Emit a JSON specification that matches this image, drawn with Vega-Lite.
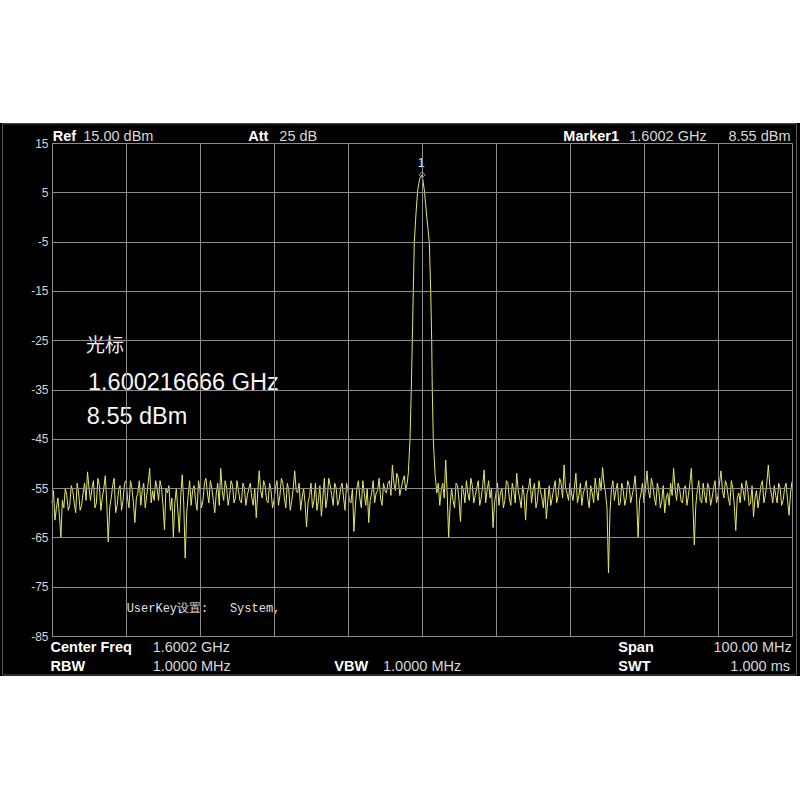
{
  "$schema": "https://vega.github.io/schema/vega-lite/v6.json",
  "width": 740,
  "height": 493,
  "autosize": {"type": "none"},
  "padding": {"left": 52, "top": 143, "right": 8, "bottom": 164},
  "background": "white",
  "config": {"view": {"stroke": null}},
  "datasets": {
    "screen": [{"f": 1543.1, "f2": 1651.4, "p": 19.06, "p2": -93.1}],
    "frame": [{"f": 1543.51, "f2": 1650.81, "p": 18.9, "p2": -92.9}],
    "trace": [
      {"f":1550.2,"p":-58.0},{"f":1550.6,"p":-61.5},{"f":1551.0,"p":-57.0},{"f":1551.4,"p":-65.0},{"f":1551.8,"p":-59.0},{"f":1552.2,"p":-56.5},{"f":1552.6,"p":-58.5},{"f":1553.0,"p":-55.5},{"f":1553.4,"p":-60.0},{"f":1553.8,"p":-56.0},{"f":1554.2,"p":-58.5},{"f":1554.6,"p":-54.0},{"f":1555.0,"p":-51.7},{"f":1555.4,"p":-57.5},{"f":1555.8,"p":-53.5},{"f":1556.2,"p":-58.0},{"f":1556.6,"p":-54.5},{"f":1557.0,"p":-57.0},{"f":1557.4,"p":-52.5},{"f":1557.8,"p":-65.9},{"f":1558.2,"p":-57.0},{"f":1558.6,"p":-53.0},{"f":1559.0,"p":-58.5},{"f":1559.4,"p":-54.5},{"f":1559.8,"p":-57.5},{"f":1560.2,"p":-53.5},{"f":1560.6,"p":-59.0},{"f":1561.0,"p":-55.0},{"f":1561.4,"p":-62.0},{"f":1561.8,"p":-56.0},{"f":1562.2,"p":-58.5},{"f":1562.6,"p":-54.0},{"f":1563.0,"p":-56.5},{"f":1563.4,"p":-51.0},{"f":1563.8,"p":-55.5},{"f":1564.2,"p":-53.5},{"f":1564.6,"p":-57.5},{"f":1565.0,"p":-55.0},{"f":1565.4,"p":-63.5},{"f":1565.8,"p":-56.0},{"f":1566.2,"p":-59.5},{"f":1566.6,"p":-64.9},{"f":1567.0,"p":-55.0},{"f":1567.4,"p":-64.0},{"f":1567.8,"p":-52.3},{"f":1568.2,"p":-69.2},{"f":1568.6,"p":-56.5},{"f":1569.0,"p":-58.5},{"f":1569.4,"p":-54.5},{"f":1569.8,"p":-59.5},{"f":1570.2,"p":-55.5},{"f":1570.6,"p":-57.5},{"f":1571.0,"p":-53.0},{"f":1571.4,"p":-58.0},{"f":1571.8,"p":-55.0},{"f":1572.2,"p":-60.0},{"f":1572.6,"p":-54.0},{"f":1573.0,"p":-51.0},{"f":1573.4,"p":-57.5},{"f":1573.8,"p":-55.0},{"f":1574.2,"p":-56.5},{"f":1574.6,"p":-54.5},{"f":1575.0,"p":-57.0},{"f":1575.4,"p":-55.5},{"f":1575.8,"p":-58.0},{"f":1576.2,"p":-55.0},{"f":1576.6,"p":-56.5},{"f":1577.0,"p":-54.0},{"f":1577.4,"p":-58.5},{"f":1577.8,"p":-61.0},{"f":1578.2,"p":-51.5},{"f":1578.6,"p":-57.0},{"f":1579.0,"p":-54.5},{"f":1579.4,"p":-58.0},{"f":1579.8,"p":-55.5},{"f":1580.2,"p":-57.5},{"f":1580.6,"p":-53.5},{"f":1581.0,"p":-56.5},{"f":1581.4,"p":-54.0},{"f":1581.8,"p":-59.0},{"f":1582.2,"p":-55.5},{"f":1582.6,"p":-57.5},{"f":1583.0,"p":-51.5},{"f":1583.4,"p":-56.0},{"f":1583.8,"p":-59.5},{"f":1584.2,"p":-55.0},{"f":1584.6,"p":-62.9},{"f":1585.0,"p":-56.5},{"f":1585.4,"p":-59.0},{"f":1585.8,"p":-54.0},{"f":1586.2,"p":-57.5},{"f":1586.6,"p":-60.7},{"f":1587.0,"p":-53.0},{"f":1587.4,"p":-57.0},{"f":1587.8,"p":-54.5},{"f":1588.2,"p":-58.5},{"f":1588.6,"p":-55.0},{"f":1589.0,"p":-57.5},{"f":1589.4,"p":-54.0},{"f":1589.8,"p":-59.5},{"f":1590.2,"p":-55.5},{"f":1590.6,"p":-58.0},{"f":1591.0,"p":-63.8},{"f":1591.4,"p":-55.0},{"f":1591.8,"p":-57.0},{"f":1592.2,"p":-53.5},{"f":1592.6,"p":-58.5},{"f":1593.0,"p":-62.0},{"f":1593.4,"p":-56.0},{"f":1593.8,"p":-58.0},{"f":1594.2,"p":-55.5},{"f":1594.6,"p":-57.0},{"f":1595.0,"p":-54.0},{"f":1595.4,"p":-56.0},{"f":1595.8,"p":-53.5},{"f":1596.2,"p":-50.3},{"f":1596.6,"p":-55.5},{"f":1597.0,"p":-53.0},{"f":1597.4,"p":-55.0},{"f":1597.8,"p":-52.5},{"f":1598.2,"p":-54.0},
      {"f":1550.4,"p":-55.5},{"f":1550.8,"p":-59.0},{"f":1551.2,"p":-60.5},{"f":1551.6,"p":-57.5},{"f":1552.0,"p":-55.0},{"f":1552.4,"p":-59.5},{"f":1552.8,"p":-54.5},{"f":1553.2,"p":-58.0},{"f":1553.6,"p":-54.0},{"f":1554.0,"p":-59.5},{"f":1554.4,"p":-56.0},{"f":1554.8,"p":-57.5},{"f":1555.2,"p":-55.0},{"f":1555.6,"p":-55.0},{"f":1556.0,"p":-59.0},{"f":1556.4,"p":-53.0},{"f":1556.8,"p":-59.5},{"f":1557.2,"p":-55.0},{"f":1557.6,"p":-58.0},{"f":1558.0,"p":-59.0},{"f":1558.4,"p":-54.5},{"f":1558.8,"p":-60.0},{"f":1559.2,"p":-55.5},{"f":1559.6,"p":-59.5},{"f":1560.0,"p":-54.0},{"f":1560.4,"p":-57.0},{"f":1560.8,"p":-53.5},{"f":1561.2,"p":-58.0},{"f":1561.6,"p":-57.0},{"f":1562.0,"p":-53.5},{"f":1562.4,"p":-55.5},{"f":1562.8,"p":-59.0},{"f":1563.2,"p":-54.0},{"f":1563.6,"p":-58.0},{"f":1564.0,"p":-57.5},{"f":1564.4,"p":-55.0},{"f":1564.8,"p":-53.5},{"f":1565.2,"p":-58.5},{"f":1565.6,"p":-55.0},{"f":1566.0,"p":-54.5},{"f":1566.4,"p":-57.0},{"f":1566.8,"p":-58.0},{"f":1567.2,"p":-59.5},{"f":1567.6,"p":-56.5},{"f":1568.0,"p":-58.0},{"f":1568.4,"p":-60.0},{"f":1568.8,"p":-53.5},{"f":1569.2,"p":-55.5},{"f":1569.6,"p":-57.5},{"f":1570.0,"p":-53.5},{"f":1570.4,"p":-59.0},{"f":1570.8,"p":-54.0},{"f":1571.2,"p":-56.0},{"f":1571.6,"p":-53.5},{"f":1572.0,"p":-57.5},{"f":1572.4,"p":-56.0},{"f":1572.8,"p":-58.5},{"f":1573.2,"p":-55.5},{"f":1573.6,"p":-53.5},{"f":1574.0,"p":-58.5},{"f":1574.4,"p":-53.5},{"f":1574.8,"p":-58.0},{"f":1575.2,"p":-53.5},{"f":1575.6,"p":-57.5},{"f":1576.0,"p":-54.0},{"f":1576.4,"p":-58.5},{"f":1576.8,"p":-55.0},{"f":1577.2,"p":-57.0},{"f":1577.6,"p":-55.0},{"f":1578.0,"p":-56.0},{"f":1578.4,"p":-55.5},{"f":1578.8,"p":-53.5},{"f":1579.2,"p":-57.5},{"f":1579.6,"p":-54.0},{"f":1580.0,"p":-59.0},{"f":1580.4,"p":-55.0},{"f":1580.8,"p":-58.5},{"f":1581.2,"p":-53.0},{"f":1581.6,"p":-57.0},{"f":1582.0,"p":-54.0},{"f":1582.4,"p":-59.5},{"f":1582.8,"p":-55.0},{"f":1583.2,"p":-55.5},{"f":1583.6,"p":-54.0},{"f":1584.0,"p":-57.0},{"f":1584.4,"p":-58.0},{"f":1584.8,"p":-58.0},{"f":1585.2,"p":-54.0},{"f":1585.6,"p":-57.5},{"f":1586.0,"p":-59.5},{"f":1586.4,"p":-54.5},{"f":1586.8,"p":-57.0},{"f":1587.2,"p":-59.0},{"f":1587.6,"p":-53.0},{"f":1588.0,"p":-56.5},{"f":1588.4,"p":-54.0},{"f":1588.8,"p":-58.5},{"f":1589.2,"p":-55.0},{"f":1589.6,"p":-57.0},{"f":1590.0,"p":-54.0},{"f":1590.4,"p":-57.5},{"f":1590.8,"p":-55.0},{"f":1591.2,"p":-58.5},{"f":1591.6,"p":-53.5},{"f":1592.0,"p":-59.0},{"f":1592.4,"p":-56.0},{"f":1592.8,"p":-55.0},{"f":1593.2,"p":-57.5},{"f":1593.6,"p":-53.5},{"f":1594.0,"p":-56.0},{"f":1594.4,"p":-53.0},{"f":1594.8,"p":-58.5},{"f":1595.2,"p":-55.5},{"f":1595.6,"p":-54.0},{"f":1596.0,"p":-56.5},{"f":1596.4,"p":-54.0},{"f":1596.8,"p":-52.0},{"f":1597.2,"p":-56.5},{"f":1597.6,"p":-53.5},{"f":1598.0,"p":-55.5},
      {"f":1598.35,"p":-52.0},{"f":1598.58,"p":-45.2},{"f":1598.75,"p":-35.1},{"f":1598.89,"p":-25.0},{"f":1599.02,"p":-15.2},{"f":1599.16,"p":-5.1},{"f":1599.4,"p":1.0},{"f":1599.62,"p":5.5},{"f":1599.9,"p":7.8},{"f":1600.2167,"p":8.55},{"f":1600.51,"p":5.5},{"f":1600.85,"p":0.0},{"f":1601.19,"p":-5.1},{"f":1601.38,"p":-15.2},{"f":1601.51,"p":-25.0},{"f":1601.59,"p":-35.1},{"f":1601.73,"p":-45.2},{"f":1601.96,"p":-52.0},
      {"f":1602.2,"p":-56.0},{"f":1602.6,"p":-58.5},{"f":1603.0,"p":-54.0},{"f":1603.4,"p":-49.3},{"f":1603.8,"p":-65.0},{"f":1604.2,"p":-55.0},{"f":1604.6,"p":-59.0},{"f":1605.0,"p":-54.5},{"f":1605.4,"p":-61.8},{"f":1605.8,"p":-55.5},{"f":1606.2,"p":-53.5},{"f":1606.6,"p":-57.5},{"f":1607.0,"p":-54.5},{"f":1607.4,"p":-56.5},{"f":1607.8,"p":-53.5},{"f":1608.2,"p":-57.0},{"f":1608.6,"p":-51.3},{"f":1609.0,"p":-55.5},{"f":1609.4,"p":-57.0},{"f":1609.8,"p":-63.0},{"f":1610.2,"p":-56.0},{"f":1610.6,"p":-58.5},{"f":1611.0,"p":-55.0},{"f":1611.4,"p":-57.5},{"f":1611.8,"p":-54.0},{"f":1612.2,"p":-58.5},{"f":1612.6,"p":-55.5},{"f":1613.0,"p":-52.0},{"f":1613.4,"p":-57.0},{"f":1613.8,"p":-54.5},{"f":1614.2,"p":-61.5},{"f":1614.6,"p":-55.0},{"f":1615.0,"p":-58.0},{"f":1615.4,"p":-54.0},{"f":1615.8,"p":-57.5},{"f":1616.2,"p":-55.5},{"f":1616.6,"p":-59.0},{"f":1617.0,"p":-61.2},{"f":1617.4,"p":-54.5},{"f":1617.8,"p":-57.0},{"f":1618.2,"p":-53.5},{"f":1618.6,"p":-56.5},{"f":1619.0,"p":-54.0},{"f":1619.4,"p":-50.3},{"f":1619.8,"p":-56.0},{"f":1620.2,"p":-54.0},{"f":1620.6,"p":-57.5},{"f":1621.0,"p":-52.0},{"f":1621.4,"p":-56.5},{"f":1621.8,"p":-58.5},{"f":1622.2,"p":-55.0},{"f":1622.6,"p":-57.0},{"f":1623.0,"p":-54.5},{"f":1623.4,"p":-58.0},{"f":1623.8,"p":-55.5},{"f":1624.2,"p":-53.0},{"f":1624.6,"p":-50.8},{"f":1625.0,"p":-56.0},{"f":1625.4,"p":-72.2},{"f":1625.8,"p":-55.0},{"f":1626.2,"p":-57.5},{"f":1626.6,"p":-54.0},{"f":1627.0,"p":-58.0},{"f":1627.4,"p":-55.5},{"f":1627.8,"p":-57.0},{"f":1628.2,"p":-54.5},{"f":1628.6,"p":-56.5},{"f":1629.0,"p":-52.5},{"f":1629.4,"p":-65.0},{"f":1629.8,"p":-56.0},{"f":1630.2,"p":-58.0},{"f":1630.6,"p":-51.5},{"f":1631.0,"p":-57.0},{"f":1631.4,"p":-54.5},{"f":1631.8,"p":-58.5},{"f":1632.2,"p":-55.5},{"f":1632.6,"p":-57.5},{"f":1633.0,"p":-60.0},{"f":1633.4,"p":-56.0},{"f":1633.8,"p":-54.0},{"f":1634.2,"p":-51.0},{"f":1634.6,"p":-57.5},{"f":1635.0,"p":-55.0},{"f":1635.4,"p":-58.0},{"f":1635.8,"p":-54.5},{"f":1636.2,"p":-56.5},{"f":1636.6,"p":-51.0},{"f":1637.0,"p":-66.5},{"f":1637.4,"p":-55.5},{"f":1637.8,"p":-57.5},{"f":1638.2,"p":-54.0},{"f":1638.6,"p":-58.0},{"f":1639.0,"p":-55.0},{"f":1639.4,"p":-57.0},{"f":1639.8,"p":-53.5},{"f":1640.2,"p":-56.5},{"f":1640.6,"p":-51.5},{"f":1641.0,"p":-57.0},{"f":1641.4,"p":-54.5},{"f":1641.8,"p":-58.5},{"f":1642.2,"p":-55.0},{"f":1642.6,"p":-63.6},{"f":1643.0,"p":-56.0},{"f":1643.4,"p":-54.0},{"f":1643.8,"p":-57.5},{"f":1644.2,"p":-55.0},{"f":1644.6,"p":-58.0},{"f":1645.0,"p":-60.8},{"f":1645.4,"p":-55.5},{"f":1645.8,"p":-57.0},{"f":1646.2,"p":-53.5},{"f":1646.6,"p":-56.5},{"f":1647.0,"p":-50.3},{"f":1647.4,"p":-56.0},{"f":1647.8,"p":-54.5},{"f":1648.2,"p":-58.0},{"f":1648.6,"p":-55.0},{"f":1649.0,"p":-57.5},{"f":1649.4,"p":-54.0},{"f":1649.8,"p":-60.5},{"f":1650.2,"p":-53.7},
      {"f":1602.4,"p":-54.0},{"f":1602.8,"p":-55.5},{"f":1603.2,"p":-57.0},{"f":1603.6,"p":-56.0},{"f":1604.0,"p":-58.5},{"f":1604.4,"p":-57.5},{"f":1604.8,"p":-54.0},{"f":1605.2,"p":-57.5},{"f":1605.6,"p":-54.5},{"f":1606.0,"p":-58.0},{"f":1606.4,"p":-56.0},{"f":1606.8,"p":-53.0},{"f":1607.2,"p":-58.0},{"f":1607.6,"p":-55.0},{"f":1608.0,"p":-58.5},{"f":1608.4,"p":-54.5},{"f":1608.8,"p":-58.0},{"f":1609.2,"p":-53.5},{"f":1609.6,"p":-55.0},{"f":1610.0,"p":-58.0},{"f":1610.4,"p":-54.0},{"f":1610.8,"p":-56.0},{"f":1611.2,"p":-59.0},{"f":1611.6,"p":-53.5},{"f":1612.0,"p":-57.0},{"f":1612.4,"p":-54.0},{"f":1612.8,"p":-58.0},{"f":1613.2,"p":-55.5},{"f":1613.6,"p":-59.0},{"f":1614.0,"p":-56.5},{"f":1614.4,"p":-56.0},{"f":1614.8,"p":-53.0},{"f":1615.2,"p":-55.5},{"f":1615.6,"p":-59.0},{"f":1616.0,"p":-53.5},{"f":1616.4,"p":-57.0},{"f":1616.8,"p":-55.0},{"f":1617.2,"p":-57.5},{"f":1617.6,"p":-58.5},{"f":1618.0,"p":-55.0},{"f":1618.4,"p":-58.0},{"f":1618.8,"p":-53.0},{"f":1619.2,"p":-57.0},{"f":1619.6,"p":-55.0},{"f":1620.0,"p":-57.5},{"f":1620.4,"p":-56.0},{"f":1620.8,"p":-55.0},{"f":1621.2,"p":-58.0},{"f":1621.6,"p":-54.0},{"f":1622.0,"p":-56.0},{"f":1622.4,"p":-53.5},{"f":1622.8,"p":-59.0},{"f":1623.2,"p":-56.0},{"f":1623.6,"p":-53.0},{"f":1624.0,"p":-57.5},{"f":1624.4,"p":-55.5},{"f":1624.8,"p":-54.0},{"f":1625.2,"p":-59.0},{"f":1625.6,"p":-60.0},{"f":1626.0,"p":-53.5},{"f":1626.4,"p":-55.5},{"f":1626.8,"p":-58.5},{"f":1627.2,"p":-54.0},{"f":1627.6,"p":-58.5},{"f":1628.0,"p":-53.5},{"f":1628.4,"p":-58.0},{"f":1628.8,"p":-55.0},{"f":1629.2,"p":-57.0},{"f":1629.6,"p":-57.5},{"f":1630.0,"p":-54.0},{"f":1630.4,"p":-55.0},{"f":1630.8,"p":-55.5},{"f":1631.2,"p":-53.0},{"f":1631.6,"p":-57.0},{"f":1632.0,"p":-54.0},{"f":1632.4,"p":-59.0},{"f":1632.8,"p":-54.5},{"f":1633.2,"p":-57.0},{"f":1633.6,"p":-58.5},{"f":1634.0,"p":-56.5},{"f":1634.4,"p":-55.0},{"f":1634.8,"p":-54.0},{"f":1635.2,"p":-57.5},{"f":1635.6,"p":-55.0},{"f":1636.0,"p":-58.5},{"f":1636.4,"p":-54.0},{"f":1636.8,"p":-58.0},{"f":1637.2,"p":-58.5},{"f":1637.6,"p":-53.5},{"f":1638.0,"p":-58.0},{"f":1638.4,"p":-56.5},{"f":1638.8,"p":-54.0},{"f":1639.2,"p":-58.5},{"f":1639.6,"p":-55.0},{"f":1640.0,"p":-58.0},{"f":1640.4,"p":-54.0},{"f":1640.8,"p":-55.5},{"f":1641.2,"p":-53.5},{"f":1641.6,"p":-57.0},{"f":1642.0,"p":-53.5},{"f":1642.4,"p":-58.5},{"f":1642.8,"p":-57.0},{"f":1643.2,"p":-58.0},{"f":1643.6,"p":-55.5},{"f":1644.0,"p":-53.5},{"f":1644.4,"p":-58.5},{"f":1644.8,"p":-54.5},{"f":1645.2,"p":-57.0},{"f":1645.6,"p":-59.0},{"f":1646.0,"p":-54.5},{"f":1646.4,"p":-58.0},{"f":1646.8,"p":-54.0},{"f":1647.2,"p":-54.5},{"f":1647.6,"p":-58.0},{"f":1648.0,"p":-56.5},{"f":1648.4,"p":-54.0},{"f":1648.8,"p":-58.5},{"f":1649.2,"p":-55.0},{"f":1649.6,"p":-57.5},{"f":1650.0,"p":-56.0}
    ],
    "bold": [
      {"t": "Ref", "f": 1550.3, "p": 15.4},
      {"t": "Att", "f": 1576.73, "p": 15.4},
      {"t": "Marker1", "f": 1619.3, "p": 15.4},
      {"t": "Center Freq", "f": 1550.0, "p": -88.25},
      {"t": "RBW", "f": 1550.0, "p": -92.1},
      {"t": "VBW", "f": 1588.35, "p": -92.1},
      {"t": "Span", "f": 1626.73, "p": -88.25},
      {"t": "SWT", "f": 1626.73, "p": -92.1}
    ],
    "plain": [
      {"t": "15.00 dBm", "f": 1554.43, "p": 15.4},
      {"t": "25 dB", "f": 1580.92, "p": 15.4},
      {"t": "1.6002 GHz", "f": 1628.21, "p": 15.4},
      {"t": "1.6002 GHz", "f": 1563.8, "p": -88.25},
      {"t": "1.0000 MHz", "f": 1563.8, "p": -92.1},
      {"t": "1.0000 MHz", "f": 1594.93, "p": -92.1}
    ],
    "plainRight": [
      {"t": "8.55 dBm", "f": 1650.0, "p": 15.4},
      {"t": "100.00 MHz", "f": 1650.16, "p": -88.25},
      {"t": "1.000 ms", "f": 1649.93, "p": -92.1}
    ],
    "cjk": [{"t": "光标", "f": 1554.79, "p": -27.39}],
    "big": [
      {"t": "1.600216666 GHz", "f": 1555.06, "p": -35.1},
      {"t": "8.55 dBm", "f": 1554.9, "p": -42.0}
    ],
    "userkey": [{"t": "UserKey设置:\u00a0\u00a0\u00a0System,", "f": 1560.29, "p": -80.13}],
    "marker": [{"t": "1", "f": 1600.2167, "p": 8.55}]
  },
  "encoding": {
    "x": {
      "field": "f", "type": "quantitative",
      "scale": {"domain": [1550.2, 1650.2], "nice": false, "zero": false},
      "axis": {
        "values": [1550.2, 1560.2, 1570.2, 1580.2, 1590.2, 1600.2, 1610.2, 1620.2, 1630.2, 1640.2, 1650.2],
        "grid": true, "gridColor": "#8c8c8c", "gridOpacity": 1, "gridWidth": 1,
        "labels": false, "ticks": false, "domain": false, "title": null, "zindex": 1
      }
    },
    "y": {
      "field": "p", "type": "quantitative",
      "scale": {"domain": [-85, 15], "nice": false, "zero": false},
      "axis": {
        "values": [15, 5, -5, -15, -25, -35, -45, -55, -65, -75, -85],
        "labelExpr": "'' + datum.value",
        "grid": true, "gridColor": "#8c8c8c", "gridOpacity": 1, "gridWidth": 1,
        "ticks": false, "domain": true, "domainColor": "#8c8c8c", "domainWidth": 1,
        "labelColor": "#d4d4d4", "labelFont": "Liberation Sans", "labelFontSize": 12,
        "labelPadding": 4, "labelBaseline": "middle", "labelFlush": false, "labelOverlap": false,
        "title": null, "zindex": 1
      }
    }
  },
  "layer": [
    {
      "data": {"name": "screen"},
      "mark": {"type": "rect", "fill": "#000000", "stroke": null},
      "encoding": {"x2": {"field": "f2"}, "y2": {"field": "p2"}}
    },
    {
      "data": {"name": "frame"},
      "mark": {"type": "rect", "fill": null, "filled": false, "stroke": "#5a5a5a", "strokeWidth": 1},
      "encoding": {"x2": {"field": "f2"}, "y2": {"field": "p2"}}
    },
    {
      "data": {"name": "trace"},
      "mark": {"type": "line", "color": "#e8e860", "strokeWidth": 1},
      "encoding": {}
    },
    {
      "data": {"name": "marker"},
      "mark": {"type": "point", "shape": "diamond", "filled": false, "stroke": "#e0e0e0", "strokeWidth": 1, "size": 36},
      "encoding": {}
    },
    {
      "data": {"name": "marker"},
      "mark": {"type": "text", "font": "Liberation Sans", "fontSize": 13, "color": "#dddddd", "baseline": "alphabetic", "align": "center", "dx": -1, "dy": -8},
      "encoding": {"text": {"field": "t"}}
    },
    {
      "data": {"name": "bold"},
      "mark": {"type": "text", "font": "Liberation Sans", "fontWeight": "bold", "fontSize": 14.5, "color": "#ffffff", "align": "left", "baseline": "alphabetic"},
      "encoding": {"text": {"field": "t"}}
    },
    {
      "data": {"name": "plain"},
      "mark": {"type": "text", "font": "Liberation Sans", "fontSize": 14.5, "color": "#d8d8d8", "align": "left", "baseline": "alphabetic"},
      "encoding": {"text": {"field": "t"}}
    },
    {
      "data": {"name": "plainRight"},
      "mark": {"type": "text", "font": "Liberation Sans", "fontSize": 14.5, "color": "#d8d8d8", "align": "right", "baseline": "alphabetic"},
      "encoding": {"text": {"field": "t"}}
    },
    {
      "data": {"name": "cjk"},
      "mark": {"type": "text", "font": "Noto Sans CJK SC", "fontSize": 19, "color": "#f0f0f0", "align": "left", "baseline": "alphabetic"},
      "encoding": {"text": {"field": "t"}}
    },
    {
      "data": {"name": "big"},
      "mark": {"type": "text", "font": "Liberation Sans", "fontSize": 23.5, "color": "#f5f5f5", "align": "left", "baseline": "alphabetic"},
      "encoding": {"text": {"field": "t"}}
    },
    {
      "data": {"name": "userkey"},
      "mark": {"type": "text", "font": "Liberation Mono", "fontSize": 12, "color": "#e0e0e0", "align": "left", "baseline": "alphabetic"},
      "encoding": {"text": {"field": "t"}}
    }
  ]
}
